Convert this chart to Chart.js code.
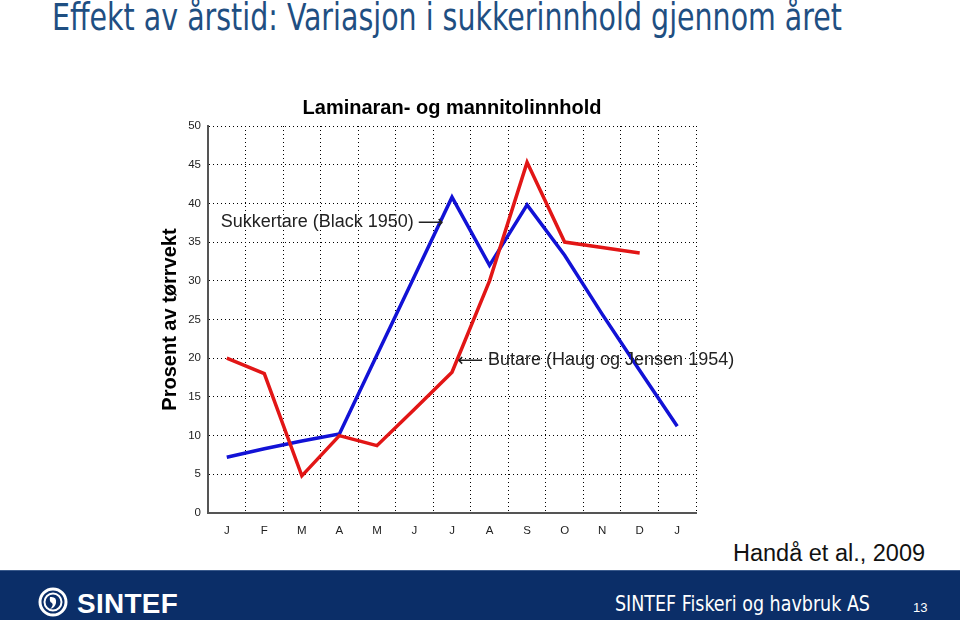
<!DOCTYPE html>
<html>
<head>
<meta charset="utf-8">
<script src="https://cdn.jsdelivr.net/npm/chart.js@4/dist/chart.umd.min.js"></script>
<style>
  html, body { margin: 0; padding: 0; background: #fff; }
  body { width: 960px; height: 620px; position: relative; overflow: hidden; font-family: "Liberation Sans", Arial, sans-serif; }
  #title { position: absolute; left: 52px; top: -4px; font-family: "Liberation Sans Narrow", "DejaVu Sans Condensed", sans-serif; font-size: 37px; color: #1f4f82; white-space: nowrap; transform-origin: 0 0; }
  #source { position: absolute; left: 733px; top: 540px; font-size: 23.5px; color: #111; white-space: nowrap; }
  #footer { position: absolute; left: 0; top: 570px; width: 960px; height: 50px; background: #0b2e68; border-top: 1px solid #3a5a8c; }
  #logo { position: absolute; left: 38px; top: 16px; }
  #logotext { position: absolute; left: 77px; top: 18px; font-weight: bold; font-size: 27px; color: #fff; letter-spacing: 0.3px; white-space: nowrap; transform-origin: 0 0; }
  #org { position: absolute; left: 615px; top: 21px; font-family: "Liberation Sans Narrow", "DejaVu Sans Condensed", sans-serif; font-size: 21px; color: #fff; white-space: nowrap; transform-origin: 0 0; }
  #page { position: absolute; left: 913px; top: 29px; font-size: 13px; color: #fff; }
  #wrap { position: absolute; left: 0; top: 0; width: 960px; height: 620px; }
</style>
</head>
<body>
<div id="title">Effekt av årstid: Variasjon i sukkerinnhold gjennom året</div>
<div id="source">Handå et al., 2009</div>
<div id="footer">
  <svg id="logo" width="30" height="30" viewBox="0 0 30 30">
    <circle cx="15" cy="15" r="13" fill="none" stroke="#fff" stroke-width="3"/>
    <circle cx="15" cy="15" r="8.5" fill="none" stroke="#fff" stroke-width="2"/>
    <path d="M12 10 Q19 9 18 16 Q17 21 12 22 Q16 18 14 16 Q11 15 12 10 Z" fill="#fff"/>
  </svg>
  <div id="logotext">SINTEF</div>
  <div id="org">SINTEF Fiskeri og havbruk AS</div>
  <div id="page">13</div>
</div>
<div id="wrap"><canvas id="c" width="960" height="620"></canvas></div>
<script>
const months = ["J","F","M","A","M","J","J","A","S","O","N","D","J"];
const butare = [20, 18, 4.8, 10, 8.7, 13.4, 18.2, 30, 45.3, 35, 34.3, 33.6, null];
const sukkertare = [7.2, 8.3, 9.3, 10.2, 20.4, 30.6, 40.8, 32, 39.8, 33.3, 25.7, 18.4, 11.2];
const yTicks = [0, 5, 10, 15, 20, 25, 30, 35, 40, 45, 50];
const chartTitle = "Laminaran- og mannitolinnhold";
const yTitle = "Prosent av tørrvekt";
const notes = [
  { text: "Sukkertare (Black 1950)", arrow: "\u27F6", side: "right", cat: 0, dx: -6, value: 37.6 },
  { text: "Butare (Haug og Jensen 1954)", arrow: "\u27F5", side: "left", cat: 6, dx: 36, value: 19.7 }
];

function fitWidth(id, target) {
  const el = document.getElementById(id);
  const w = el.getBoundingClientRect().width;
  el.style.transform = 'scaleX(' + (target / w) + ')';
}
fitWidth('title', 790);
fitWidth('org', 255);
fitWidth('logotext', 101);

const annot = {
  id: 'annot',
  afterDraw(chart) {
    const ctx = chart.ctx, xs = chart.scales.x, ys = chart.scales.y, ca = chart.chartArea;
    ctx.save();
    ctx.fillStyle = '#000';
    ctx.font = 'bold 20px "Liberation Sans", Arial, sans-serif';
    ctx.textAlign = 'center';
    ctx.textBaseline = 'middle';
    ctx.fillText(chartTitle, (ca.left + ca.right) / 2, ca.top - 18);
    ctx.fillStyle = '#222';
    notes.forEach(n => {
      const x = xs.getPixelForValue(n.cat) + n.dx, y = ys.getPixelForValue(n.value);
      ctx.font = '18px "Liberation Sans", Arial, sans-serif';
      ctx.textAlign = 'left';
      ctx.fillText(n.text, x, y);
      const tw = ctx.measureText(n.text).width;
      ctx.font = '18px "DejaVu Sans", sans-serif';
      if (n.side === 'right') {
        ctx.textAlign = 'left';
        ctx.fillText(n.arrow, x + tw + 4, y + 1);
      } else {
        ctx.textAlign = 'right';
        ctx.fillText(n.arrow, x - 5, y + 1);
      }
    });
    ctx.restore();
  }
};

new Chart(document.getElementById('c'), {
  type: 'line',
  data: {
    labels: months,
    datasets: [
      { label: 'Butare', data: butare, borderColor: 'rgb(226,22,22)', borderWidth: 3.5, pointRadius: 0, tension: 0, spanGaps: false },
      { label: 'Sukkertare', data: sukkertare, borderColor: 'rgb(18,18,214)', borderWidth: 3.5, pointRadius: 0, tension: 0 }
    ]
  },
  options: {
    responsive: false,
    animation: false,
    layout: { padding: { left: 158, top: 126, right: 264, bottom: 77 } },
    plugins: { legend: { display: false }, tooltip: { enabled: false }, title: { display: false } },
    scales: {
      x: {
        offset: true,
        grid: { offset: true, color: '#000', lineWidth: 1, drawTicks: false },
        border: { display: true, color: '#555', width: 2, dash: [1, 3] },
        ticks: { color: '#222', font: { family: '"Liberation Sans", Arial, sans-serif', size: 11.5 }, padding: 11, maxRotation: 0, autoSkip: false },
        afterFit(s) { s.height = 30; }
      },
      y: {
        min: 0, max: 50,
        afterBuildTicks(s) { s.ticks = yTicks.map(v => ({ value: v })); },
        grid: { color: '#000', lineWidth: 1, drawTicks: false },
        border: { display: true, color: '#555', width: 2, dash: [1, 3] },
        ticks: { color: '#222', font: { family: '"Liberation Sans", Arial, sans-serif', size: 11.5 }, padding: 7 },
        title: { display: true, text: yTitle, color: '#000', font: { family: '"Liberation Sans", Arial, sans-serif', size: 20, weight: 'bold' }, padding: 0 },
        afterFit(s) { s.width = 50; }
      }
    }
  },
  plugins: [annot]
});
</script>
</body>
</html>
